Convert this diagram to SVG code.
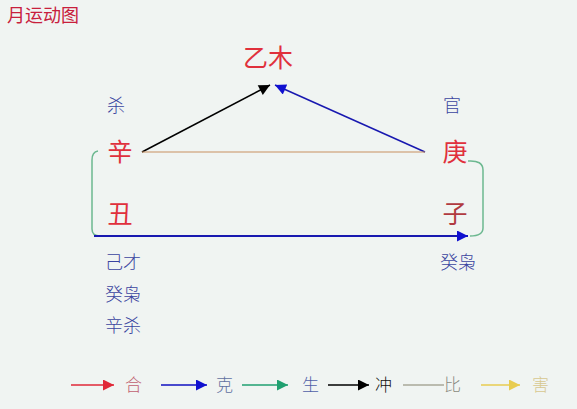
<svg xmlns="http://www.w3.org/2000/svg" width="577" height="409" viewBox="0 0 577 409">
<style>
text{font-family:"Noto Sans CJK SC","Noto Sans",sans-serif}
.red{fill:#E0303C;font-size:25px;font-weight:400}
.lab{fill:#3A44A0;font-size:18px;font-weight:300}
.leg{font-size:17px;font-weight:300}
.ln{fill:none;stroke-width:1.5}
</style>
<defs>
<marker id="aBlack" viewBox="0 0 10 10" refX="10" refY="5" markerWidth="12" markerHeight="11" markerUnits="userSpaceOnUse" orient="auto"><path d="M0,0L10,5L0,10z" fill="#000"/></marker>
<marker id="aBlue" viewBox="0 0 10 10" refX="10" refY="5" markerWidth="12" markerHeight="11" markerUnits="userSpaceOnUse" orient="auto"><path d="M0,0L10,5L0,10z" fill="#1010D0"/></marker>
<marker id="aRed" viewBox="0 0 10 10" refX="10" refY="5" markerWidth="12" markerHeight="11" markerUnits="userSpaceOnUse" orient="auto"><path d="M0,0L10,5L0,10z" fill="#E02838"/></marker>
<marker id="aGreen" viewBox="0 0 10 10" refX="10" refY="5" markerWidth="12" markerHeight="11" markerUnits="userSpaceOnUse" orient="auto"><path d="M0,0L10,5L0,10z" fill="#20A070"/></marker>
<marker id="aYellow" viewBox="0 0 10 10" refX="10" refY="5" markerWidth="12" markerHeight="11" markerUnits="userSpaceOnUse" orient="auto"><path d="M0,0L10,5L0,10z" fill="#E8CC50"/></marker>
</defs>
<rect width="577" height="409" fill="#F0F4F2"/>
<text x="7" y="22" style="fill:#C8203C;font-size:18px">月运动图</text>

<g id="yimu"><text class="red" x="268" y="67" text-anchor="middle">乙木</text></g>
<g id="sha"><text class="lab" x="116" y="112" text-anchor="middle">杀</text></g>
<g id="guan"><text class="lab" x="452" y="112" text-anchor="middle">官</text></g>
<g id="xin"><text class="red" x="120" y="161" text-anchor="middle">辛</text></g>
<g id="geng"><text class="red" x="455" y="161" text-anchor="middle">庚</text></g>
<g id="chou"><text class="red" x="120" y="223" text-anchor="middle">丑</text></g>
<g id="zi"><text class="red" x="455" y="223" text-anchor="middle" style="fill:#B03A40">子</text></g>
<g id="left-labels">
<text class="lab" x="105" y="269">己才</text>
<text class="lab" x="105" y="301">癸枭</text>
<text class="lab" x="105" y="332">辛杀</text>
</g>
<g id="right-labels"><text class="lab" x="440" y="269">癸枭</text></g>

<g id="connectors">
<line class="ln" x1="142" y1="152" x2="270" y2="85" stroke="#000" marker-end="url(#aBlack)"/>
<line class="ln" x1="425" y1="152" x2="275" y2="85" stroke="#1818B0" marker-end="url(#aBlue)"/>
<line x1="142" y1="152" x2="425" y2="152" stroke="#C89060" stroke-width="1.2"/>
<path class="ln" d="M98,151 Q92,152 92,160 L92,229 Q92,236 100,236" stroke="#6CB890" stroke-width="1.2"/>
<path class="ln" d="M468,161 Q483,160 483,170 L483,228 Q483,236 470,236" stroke="#6CB890" stroke-width="1.2"/>
<line x1="94" y1="236" x2="468" y2="236" stroke="#1818B0" stroke-width="2" marker-end="url(#aBlue)"/>
</g>

<g id="legend">
<line x1="71" y1="385" x2="114" y2="385" stroke="#E02838" stroke-width="1.5" marker-end="url(#aRed)"/>
<text class="leg" x="125" y="391" fill="#C06070">合</text>
<line x1="161" y1="385" x2="207" y2="385" stroke="#1010C0" stroke-width="1.5" marker-end="url(#aBlue)"/>
<text class="leg" x="216" y="391" fill="#6070A0">克</text>
<line x1="242" y1="385" x2="288" y2="385" stroke="#20A070" stroke-width="1.5" marker-end="url(#aGreen)"/>
<text class="leg" x="302" y="391" fill="#5060A8">生</text>
<line x1="328" y1="385" x2="369" y2="385" stroke="#000" stroke-width="1.5" marker-end="url(#aBlack)"/>
<text class="leg" x="375" y="391" fill="#111">冲</text>
<line x1="403" y1="385" x2="444" y2="385" stroke="#A8A898" stroke-width="1.5"/>
<text class="leg" x="444" y="391" fill="#8A8A80">比</text>
<line x1="481" y1="385" x2="520" y2="385" stroke="#E8CC50" stroke-width="1.5" marker-end="url(#aYellow)"/>
<text class="leg" x="532" y="391" fill="#D8C890">害</text>
</g>
</svg>
